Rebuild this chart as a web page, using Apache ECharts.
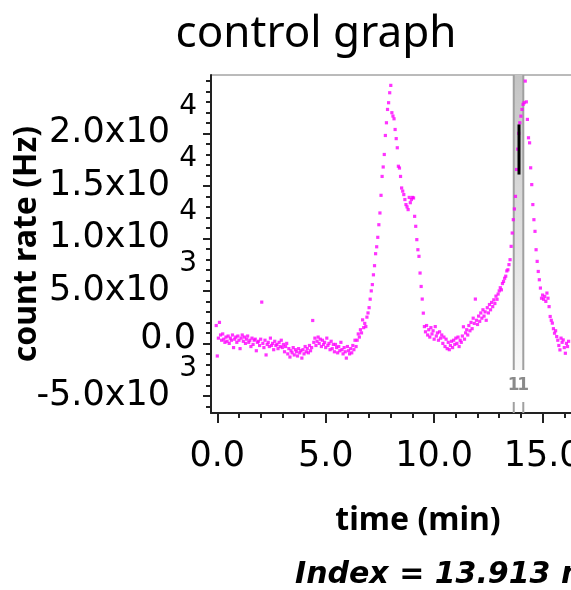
<!DOCTYPE html>
<html>
<head>
<meta charset="utf-8">
<script src="https://cdn.jsdelivr.net/npm/echarts@6/dist/echarts.min.js"></script>
<style>
html,body{margin:0;padding:0;overflow:hidden;background:#fff;}
#chart{width:640px;height:590px;}
</style>
</head>
<body>
<div id="chart"></div>
<script>
// ---- data (time in min, count rate in Hz) ----
const baselineSegment = [[-0.05,1700],[0,-1200],[0.05,500],[0.1,2000],[0.15,800],[0.2,300],[0.25,900],[0.3,400],[0.35,100],[0.4,600],[0.45,200],[0.5,700],[0.55,0],[0.6,500],[0.65,300],[0.7,800],[0.75,-400],[0.8,400],[0.85,600],[0.9,100],[0.95,700],[1.0,300],[1.05,-500],[1.1,500],[1.15,800],[1.2,200],[1.25,600],[1.3,0],[1.35,400],[1.4,700],[1.45,100],[1.5,300],[1.55,-300],[1.6,500],[1.65,-100],[1.7,300],[1.75,400],[1.8,-700],[1.85,100],[1.9,200],[1.95,-200],[2.0,400],[2.05,3930],[2.1,0],[2.15,-400],[2.2,300],[2.25,-1100],[2.3,-100],[2.35,100],[2.4,-300],[2.45,500],[2.5,-200],[2.55,0],[2.6,-600],[2.65,200],[2.7,-200],[2.75,-100],[2.8,-500],[2.85,100],[2.9,-300],[2.95,300],[3.0,-400],[3.05,-100],[3.1,-800],[3.15,-300],[3.2,0],[3.25,-1000],[3.3,-500],[3.35,-1300],[3.4,-700],[3.45,-900],[3.5,-400],[3.55,-1100],[3.6,-600],[3.65,-800],[3.7,-1200],[3.75,-500],[3.8,-900],[3.85,-700],[3.9,-1400],[3.95,-600],[4.0,-1000],[4.05,-300],[4.1,-800],[4.15,-500],[4.2,-900],[4.25,-200],[4.3,-700],[4.35,-400],[4.4,2180],[4.45,100],[4.5,500],[4.55,-200],[4.6,200],[4.65,600],[4.7,0],[4.75,400],[4.8,-300],[4.85,300],[4.9,-100],[4.95,100],[5.0,-400],[5.05,500],[5.1,-200],[5.15,0],[5.2,-600],[5.25,200],[5.3,-500],[5.35,-100],[5.4,-800],[5.45,-100],[5.5,-400],[5.55,-900],[5.6,-300],[5.65,-700],[5.7,100],[5.75,-600],[5.8,-1000],[5.85,-400],[5.9,-800],[5.95,-1400],[6.0,-300],[6.05,-700],[6.1,-1000],[6.15,-500],[6.2,-900],[6.25,-200],[6.3,-600],[6.35,300],[6.4,-300]];
const firstPeakSegment = [[6.45,300],[6.5,900],[6.55,600],[6.6,1300],[6.65,1000],[6.7,2240],[6.75,1500],[6.8,1900],[6.85,1600],[6.9,2500],[6.95,2900],[7.0,3400],[7.05,4210],[7.1,5000],[7.15,5600],[7.2,6530],[7.25,7400],[7.3,8540],[7.35,9200],[7.4,10100],[7.45,11300],[7.5,12420],[7.55,14100],[7.6,15900],[7.65,16800],[7.7,17990],[7.75,19800],[7.8,21010],[7.85,22280],[7.9,22920],[7.95,23870],[8.0,24570],[8.05,21970],[8.1,21650],[8.15,21390],[8.2,20370],[8.25,19500],[8.3,18630],[8.35,16870],[8.4,16700],[8.45,15900],[8.5,14800],[8.55,14500],[8.6,14170],[8.65,13700],[8.7,13220],[8.75,13000],[8.8,12740],[8.85,13900],[8.9,13400],[8.95,13700],[9.0,13900],[9.05,13850],[9.1,12100],[9.15,11150],[9.2,9880],[9.25,8920],[9.3,8290],[9.35,6700],[9.4,5420],[9.45,4220],[9.5,2880],[9.55,1600]];
const troughSegment = [[9.6,1100],[9.65,1700],[9.7,800],[9.75,1300],[9.8,600],[9.85,1500],[9.9,900],[9.95,1200],[10.0,400],[10.05,1600],[10.1,700],[10.15,1000],[10.2,300],[10.25,1100],[10.3,500],[10.35,800],[10.4,0],[10.45,600],[10.5,-300],[10.55,400],[10.6,-500],[10.65,100],[10.7,-600],[10.75,-200],[10.8,200],[10.85,-400],[10.9,300],[10.95,-100],[11.0,500],[11.05,0],[11.1,600],[11.15,-300],[11.2,300],[11.25,100],[11.3,700],[11.35,1580],[11.4,400],[11.45,1000],[11.5,1300],[11.55,800],[11.6,1700],[11.65,1200],[11.7,2000],[11.75,1400],[11.8,2400],[11.85,1900],[11.9,4220],[11.95,2200],[12.0,1800],[12.05,2600],[12.1,2100],[12.15,2900],[12.2,2400],[12.25,3200],[12.3,2600],[12.35,3000],[12.4,2200],[12.45,3400],[12.5,2900],[12.55,3700],[12.6,3200],[12.65,3900],[12.7,3500],[12.75,4150],[12.8,3800],[12.85,4500],[12.9,4200],[12.95,4700],[13.0,5000],[13.05,5300],[13.1,5100],[13.15,5700],[13.2,5900],[13.25,6200],[13.3,6400],[13.35,6900],[13.4,7010],[13.45,7500],[13.5,7970],[13.55,9240],[13.6,10510],[13.65,11780]];
const secondPeakSegment = [[13.7,12800],[13.75,14000],[13.8,16560],[13.85,18500],[13.9,20000],[13.95,21010],[14.0,21640],[14.05,22280],[14.1,22760],[14.15,22920],[14.2,24980],[14.25,23000],[14.3,21330],[14.35,19580],[14.4,19100],[14.45,16720],[14.5,15120],[14.55,13220],[14.6,11780],[14.65,10670],[14.7,8920],[14.75,7810],[14.8,6850],[14.85,6060],[14.9,5270],[14.95,4300],[15.0,4600],[15.05,4200],[15.1,4470],[15.15,4000],[15.2,4790],[15.25,4300],[15.3,3500],[15.35,2560],[15.4,2200],[15.45,1930],[15.5,1400],[15.55,970],[15.6,1200],[15.65,650],[15.7,300],[15.75,-200],[15.8,-620],[15.85,500],[15.9,100],[15.95,330],[16.0,-400],[16.05,-940],[16.1,0],[16.15,-300],[16.2,200]];

const bandRangeMin = [13.67, 14.11];       // shaded window (min)
const bandLabels = ['1', '1'];
const indexTimeMin = 13.913;               // index marker
const indexBarHz = [16080, 20850];         // black marker extent

const xTickValues = [0, 5, 10, 15];
const xTickLabels = ['0.0', '5.0', '10.0', '15.0'];
const xMinorTicks = [1,2,3,4,6,7,8,9,11,12,13,14,16,17,18];
const yTickValues = [-5000, 0, 5000, 10000, 15000, 20000];
const yTickMantissa = ['-5.0x10', '0.0', '5.0x10', '1.0x10', '1.5x10', '2.0x10'];
const yTickExponent = ['3', '', '3', '4', '4', '4'];
const yMinorTicks = [-6000,-4000,-3000,-2000,-1000,1000,2000,3000,4000,6000,7000,8000,9000,11000,12000,13000,14000,16000,17000,18000,19000,21000,22000,23000,24000,25000];

const xRange = [-0.29, 18.8];
const yRange = [-6630, 25560];

const allPoints = baselineSegment.concat(firstPeakSegment, troughSegment, secondPeakSegment);

const chart = echarts.init(document.getElementById('chart'), null, {renderer: 'canvas'});
const axisColor = '#222';
const bandGap = [11, 43];   // px above plot bottom where band lines are interrupted for labels
const gridBox = {left: 211, top: 75, right: 15, bottom: 177};
const plotHeight = 590 - gridBox.top - gridBox.bottom;
const exponentRaisePx = 27;
const exponentShift = exponentRaisePx * (yRange[1] - yRange[0]) / plotHeight;

function mantissaLabel(v) {
  const i = yTickValues.indexOf(v);
  if (i < 0) return '';
  return yTickExponent[i] ? '{m|' + yTickMantissa[i] + '}' : '{z|' + yTickMantissa[i] + '}';
}
function exponentLabel(v) {
  const i = yTickValues.indexOf(v);
  return i < 0 ? '' : yTickExponent[i];
}

const option = {
  animation: false,
  backgroundColor: '#fff',
  title: {
    text: 'control graph',
    left: 311, top: 7, textAlign: 'center',
    textStyle: {fontFamily: 'Noto Sans', fontSize: 44, fontWeight: 'normal', color: '#000'}
  },
  grid: {left: gridBox.left, top: gridBox.top, right: gridBox.right, bottom: gridBox.bottom,
    containLabel: false, outerBoundsMode: 'none',
    show: true, borderColor: '#777', borderWidth: 1},
  xAxis: [{
    type: 'value', min: xRange[0], max: xRange[1], position: 'bottom',
    axisLine: {show: true, onZero: false, lineStyle: {color: axisColor, width: 2}},
    axisTick: {show: true, customValues: xTickValues, length: 10, lineStyle: {color: axisColor, width: 2}},
    axisLabel: {customValues: xTickValues, margin: 26, color: '#000', fontFamily: 'DejaVu Sans', fontSize: 35,
      formatter: v => xTickLabels[xTickValues.indexOf(v)] || ''},
    splitLine: {show: false},
    name: 'time (min)', nameLocation: 'middle', nameGap: 92, nameMoveOverlap: false,
    nameTextStyle: {fontFamily: 'Noto Sans', fontWeight: 'bold', fontSize: 32, color: '#000'}
  }, {
    type: 'value', min: xRange[0], max: xRange[1], position: 'bottom',
    axisLine: {show: false, onZero: false},
    axisTick: {show: true, customValues: xMinorTicks, length: 5, lineStyle: {color: axisColor, width: 2}},
    axisLabel: {show: false}, splitLine: {show: false}
  }],
  yAxis: [{
    type: 'value', min: yRange[0], max: yRange[1], position: 'left',
    axisLine: {show: true, onZero: false, lineStyle: {color: axisColor, width: 2}},
    axisTick: {show: true, customValues: yTickValues, length: 8, lineStyle: {color: axisColor, width: 2}},
    axisLabel: {customValues: yTickValues, margin: 14, align: 'right', verticalAlign: 'middle',
      formatter: mantissaLabel,
      rich: {
        m: {fontFamily: 'DejaVu Sans', fontSize: 35, lineHeight: 38, color: '#000', align: 'right', padding: [0, 27, 0, 0]},
        z: {fontFamily: 'DejaVu Sans', fontSize: 35, lineHeight: 38, color: '#000', align: 'right', padding: [0, 1, 8, 0]}
      }},
    splitLine: {show: false},
    name: 'count rate (Hz)', nameLocation: 'middle', nameGap: 168, nameRotate: 90, nameMoveOverlap: false,
    nameTextStyle: {fontFamily: 'Noto Sans', fontWeight: 'bold', fontSize: 32, color: '#000'}
  }, {
    type: 'value', min: yRange[0], max: yRange[1], position: 'left',
    axisLine: {show: false, onZero: false},
    axisTick: {show: true, customValues: yMinorTicks, length: 5, lineStyle: {color: axisColor, width: 2}},
    axisLabel: {show: false}, splitLine: {show: false}
  }, {
    type: 'value', min: yRange[0] - exponentShift, max: yRange[1] - exponentShift, position: 'left',
    axisLine: {show: false, onZero: false}, axisTick: {show: false}, splitLine: {show: false},
    axisLabel: {customValues: yTickValues, margin: 14, align: 'right', verticalAlign: 'middle',
      color: '#000', fontFamily: 'DejaVu Sans', fontSize: 28, formatter: exponentLabel}
  }],
  series: [{
    type: 'custom', z: 1, silent: true,
    data: [[bandRangeMin[0], bandRangeMin[1]]],
    renderItem: function (params, api) {
      const cs = params.coordSys;
      const x1 = api.coord([api.value(0), 0])[0];
      const x2 = api.coord([api.value(1), 0])[0];
      const top = cs.y, bottom = cs.y + cs.height;
      const gapTop = bottom - bandGap[1], gapBot = bottom - bandGap[0];
      const ls = {stroke: '#a0a0a0', lineWidth: 2};
      return {type: 'group', children: [
        {type: 'rect', shape: {x: x1, y: top, width: x2 - x1, height: gapTop - top},
          style: {fill: new echarts.graphic.LinearGradient(0, 0, 0, 1, [{offset: 0, color: '#c4c4c4'}, {offset: 1, color: '#f8f8f8'}])}},
        {type: 'line', shape: {x1: x1, y1: top, x2: x1, y2: gapTop}, style: ls},
        {type: 'line', shape: {x1: x2, y1: top, x2: x2, y2: gapTop}, style: ls},
        {type: 'line', shape: {x1: x1, y1: gapBot, x2: x1, y2: bottom}, style: ls},
        {type: 'line', shape: {x1: x2, y1: gapBot, x2: x2, y2: bottom}, style: ls},
        {type: 'text', x: x1, y: (gapTop + gapBot) / 2, style: {text: bandLabels[0], fill: '#8a8a8a', font: 'bold 17px "DejaVu Sans"', align: 'center', verticalAlign: 'middle'}},
        {type: 'text', x: x2, y: (gapTop + gapBot) / 2, style: {text: bandLabels[1], fill: '#8a8a8a', font: 'bold 17px "DejaVu Sans"', align: 'center', verticalAlign: 'middle'}}
      ]};
    }
  }, {
    type: 'scatter', z: 2, symbol: 'rect', symbolSize: 3.2,
    itemStyle: {color: '#ff00ff'}, data: allPoints
  }, {
    type: 'custom', z: 3, silent: true,
    data: [[indexTimeMin, indexBarHz[0], indexBarHz[1]]],
    renderItem: function (params, api) {
      const p1 = api.coord([api.value(0), api.value(1)]);
      const p2 = api.coord([api.value(0), api.value(2)]);
      return {type: 'line', shape: {x1: p1[0], y1: p1[1], x2: p2[0], y2: p2[1]}, style: {stroke: '#000', lineWidth: 3}};
    }
  }],
  graphic: [{
    type: 'text', left: 295, top: 560,
    style: {text: 'Index = ' + indexTimeMin.toFixed(3) + ' min', fill: '#000', font: 'italic bold 30px "DejaVu Sans"'}
  }]
};
chart.setOption(option);
</script>
</body>
</html>
